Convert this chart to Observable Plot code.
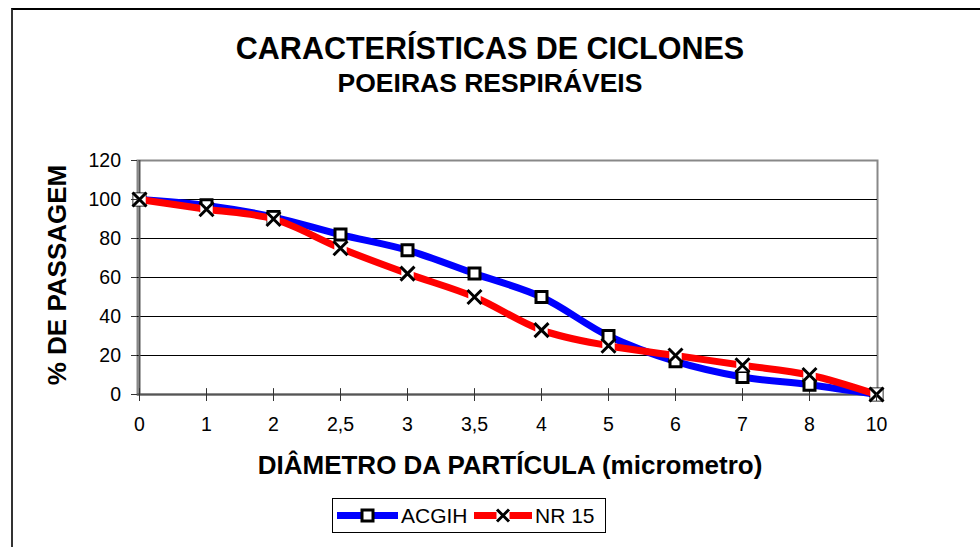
<!DOCTYPE html>
<html>
<head>
<meta charset="utf-8">
<script src="https://cdn.jsdelivr.net/npm/d3@7"></script>
<script src="https://cdn.jsdelivr.net/npm/@observablehq/plot@0.6"></script>
<style>
  html, body { margin: 0; padding: 0; background: #fff; }
  #wrap { position: relative; width: 980px; height: 547px; overflow: hidden; font-family: "Liberation Sans", Arial, sans-serif; color: #000; }
  #border { position: absolute; left: 11px; top: 8px; width: 1000px; height: 600px; border-left: 2px solid #333; border-top: 2px solid #000; }
  #chart { position: absolute; left: 0; top: 0; }
  .t { position: absolute; white-space: nowrap; font-weight: bold; line-height: 1; }
  #title { left: 0; width: 980px; text-align: center; top: 33px; font-size: 30.5px; }
  #subtitle { left: 0; width: 980px; text-align: center; top: 70px; font-size: 26.5px; }
  #xtitle { left: 510px; top: 452px; font-size: 26px; transform: translateX(-50%); }
  #ytitle { left: 57px; top: 275px; font-size: 26px; transform: translate(-50%, -50%) rotate(-90deg); }
  #legend { position: absolute; left: 332px; top: 498px; width: 272px; height: 33px; border: 1px solid #000; background: #fff; font-size: 21px; }
  #legend .item { position: absolute; top: 0; height: 33px; display: flex; align-items: center; }
</style>
</head>
<body>
<div id="wrap">
  <div id="border"></div>
  <div id="chart"></div>
  <div id="title" class="t">CARACTERÍSTICAS DE CICLONES</div>
  <div id="subtitle" class="t">POEIRAS RESPIRÁVEIS</div>
  <div id="ytitle" class="t">% DE PASSAGEM</div>
  <div id="xtitle" class="t">DIÂMETRO DA PARTÍCULA (micrometro)</div>
  <div id="legend"></div>
</div>
<script>
// ---- data ----
const diameters = ["0", "1", "2", "2,5", "3", "3,5", "4", "5", "6", "7", "8", "10"];
const acgih = [100, 97, 91, 82, 74, 62, 50, 30, 17, 9, 5, 0];
const nr15 = [100, 95, 90, 75, 62, 50, 33, 25, 20, 15, 10, 0];
const yTicks = [0, 20, 40, 60, 80, 100, 120];
const gridTicks = [20, 40, 60, 80, 100];
const seriesNames = ["ACGIH", "NR 15"];
const seriesColors = ["#0000FF", "#FF0000"];

const acgihData = diameters.map((d, i) => ({d, v: acgih[i]}));
const nr15Data = diameters.map((d, i) => ({d, v: nr15[i]}));

const chart = Plot.plot({
  width: 980,
  height: 547,
  marginLeft: 137,
  marginRight: 103,
  marginTop: 160,
  marginBottom: 153,
  style: {fontFamily: "'Liberation Sans', Arial, sans-serif", fontSize: "19.5px", color: "#000", background: "transparent"},
  x: {type: "point", domain: diameters, padding: 0},
  y: {domain: [0, 120]},
  marks: [
    Plot.frame({stroke: "#888", strokeWidth: 2}),
    Plot.gridY(gridTicks, {stroke: "#000", strokeOpacity: 1, strokeWidth: 1}),
    Plot.ruleX([diameters[0]], {stroke: "#555", strokeWidth: 2}),
    Plot.ruleY([0], {stroke: "#555", strokeWidth: 2}),
    Plot.ruleX(diameters, {x: d => d, y1: 0, y2: 3, stroke: "#333", strokeWidth: 1}),
    Plot.line(acgihData, {x: "d", y: "v", stroke: seriesColors[0], strokeWidth: 7, curve: "catmull-rom"}),
    Plot.dot(acgihData, {x: "d", y: "v", symbol: "square", r: 6.2, fill: "white", stroke: "black", strokeWidth: 3}),
    Plot.line(nr15Data, {x: "d", y: "v", stroke: seriesColors[1], strokeWidth: 7, curve: "catmull-rom"}),
    Plot.dot(nr15Data, {x: "d", y: "v", symbol: "square", r: 7, fill: "white", stroke: "none"}),
    Plot.dot(nr15Data, {x: "d", y: "v", symbol: "times", r: 6.4, fill: "none", stroke: "black", strokeWidth: 3}),
    Plot.axisY(yTicks, {tickSize: 6, tickPadding: 10.5, label: null, stroke: "#333"}),
    Plot.axisX({tickSize: 7, tickPadding: 16, label: null, stroke: "#333"})
  ]
});
document.getElementById("chart").appendChild(chart);

// ---- legend ----
const legend = document.getElementById("legend");
const items = [
  {name: seriesNames[0], color: seriesColors[0], left: 4, marker: "square"},
  {name: seriesNames[1], color: seriesColors[1], left: 141, marker: "times"}
];
const lens = [61, 58];
items.forEach((it, i) => {
  const div = document.createElement("div");
  div.className = "item";
  div.style.left = it.left + "px";
  const w = lens[i];
  const c = 10.5;
  const m = it.marker === "square"
    ? `<rect x="${w/2-5.5}" y="${c-5.5}" width="11" height="11" fill="white" stroke="black" stroke-width="3"/>`
    : `<rect x="${w/2-6.5}" y="${c-6.5}" width="13" height="13" fill="white"/><path d="M${w/2-6},${c-6}L${w/2+6},${c+6}M${w/2-6},${c+6}L${w/2+6},${c-6}" stroke="black" stroke-width="3"/>`;
  div.innerHTML = `<svg width="${w}" height="21" style="display:block"><line x1="0" x2="${w}" y1="${c}" y2="${c}" stroke="${it.color}" stroke-width="7"/>${m}</svg><span style="margin-left:3px">${it.name}</span>`;
  legend.appendChild(div);
});
</script>
</body>
</html>
